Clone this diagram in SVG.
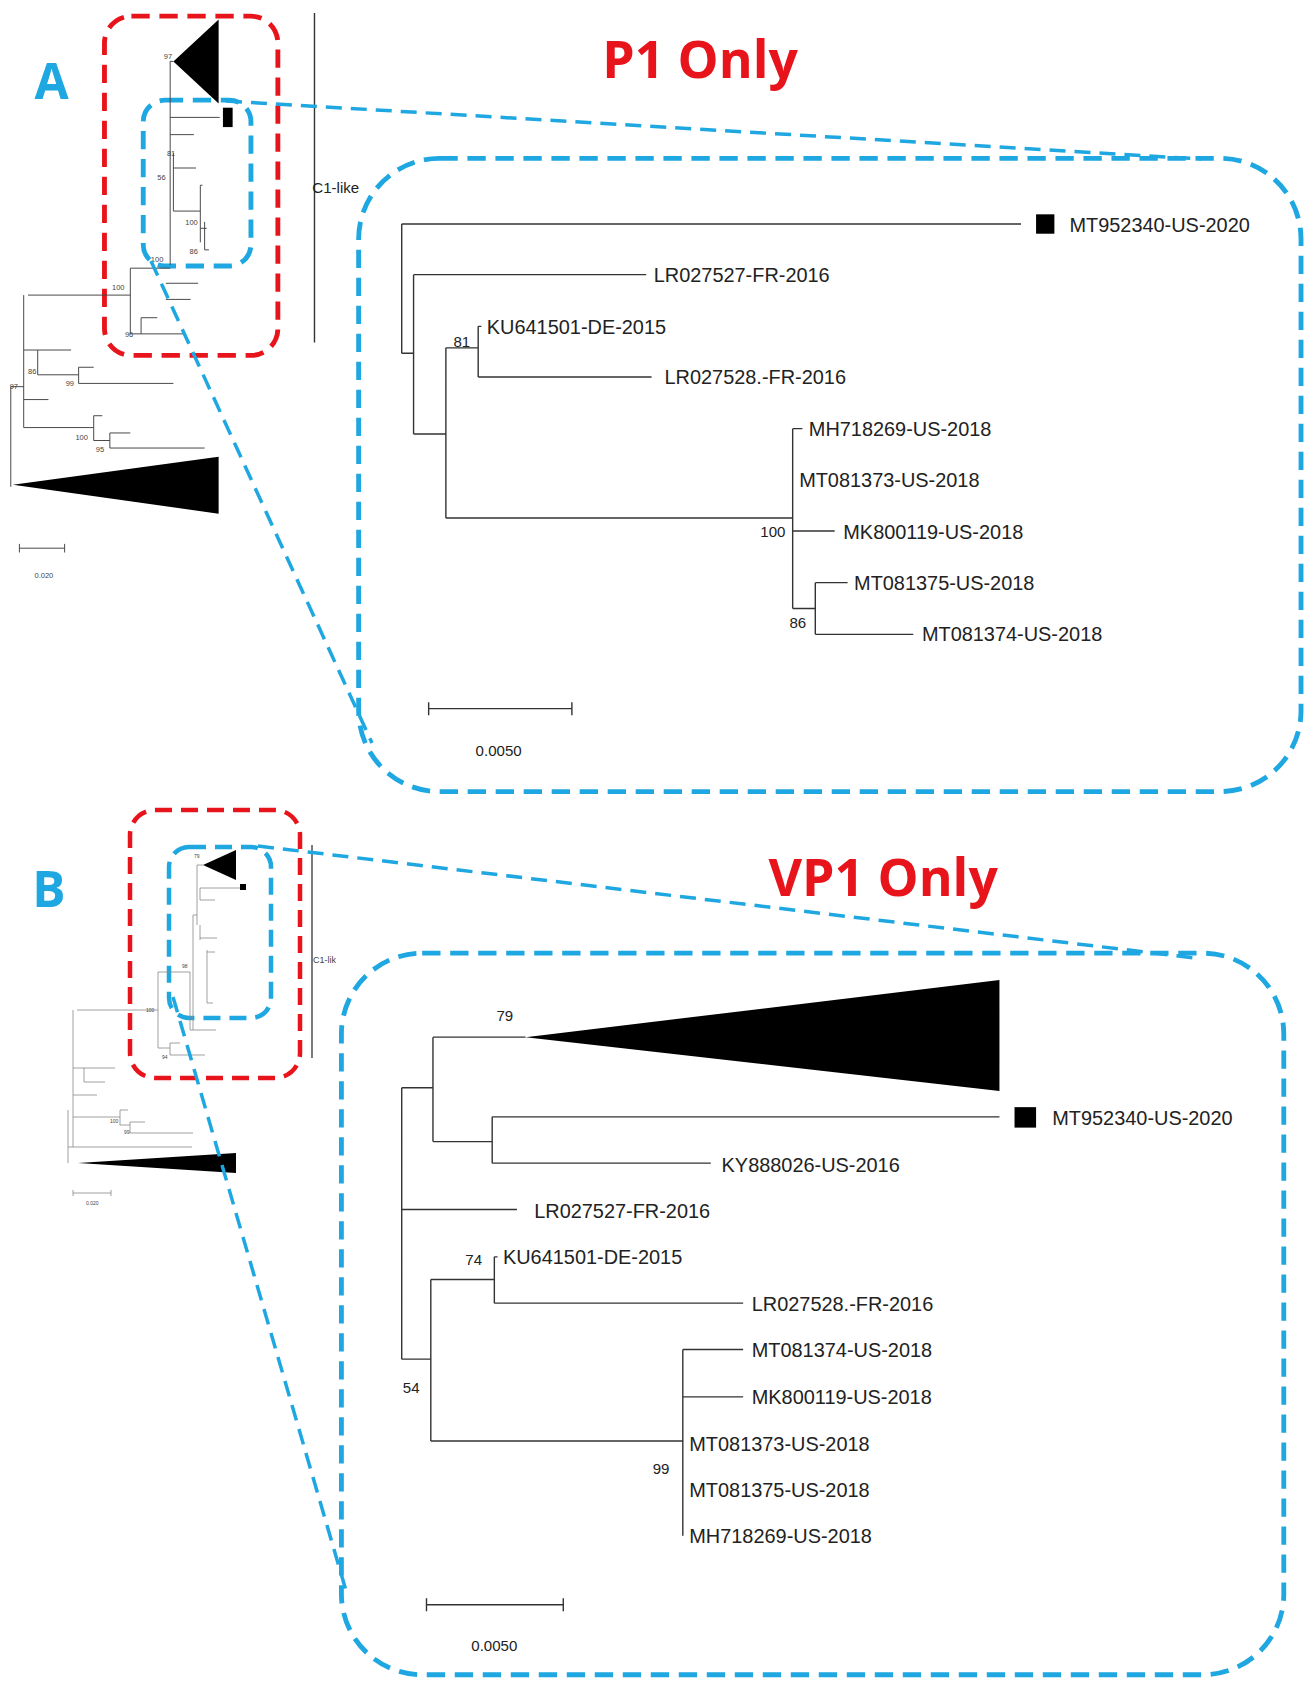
<svg xmlns="http://www.w3.org/2000/svg" width="1313" height="1692" viewBox="0 0 1313 1692">
<style>
.bg{fill:#fff}
.t{fill:none;stroke:#333;stroke-width:1.3}
.ts{fill:none;stroke:#444;stroke-width:0.9}
.tb{fill:none;stroke:#888;stroke-width:0.8}
.blk{fill:#000}
.lab{font-family:"Liberation Sans",Arial,sans-serif;font-size:18.5px;fill:#222}
.bs{font-family:"Liberation Sans",Arial,sans-serif;font-size:14px;fill:#222}
.tiny{font-family:"Liberation Sans",Arial,sans-serif;font-size:7px;fill:#444}
.big{font-family:"Open Sans","Liberation Sans",sans-serif;font-weight:bold;fill:#1EA7E1;font-size:46px}
.ttl{font-family:"Open Sans","Liberation Sans",sans-serif;font-weight:bold;fill:#E8141B;font-size:48px}
.rd{fill:none;stroke:#E8141B;stroke-width:4.5;stroke-dasharray:17 9}
.bl{fill:none;stroke:#1EA7E1;stroke-width:4.5;stroke-dasharray:17 9}
.cn{fill:none;stroke:#1EA7E1;stroke-width:3.5;stroke-dasharray:16 9}
</style>
<rect class="bg" width="1313" height="1692"/>
<g transform="scale(1.077)">
<g id="panelA-label"><text class="big" x="32" y="92">A</text><text class="ttl" x="650" y="72" text-anchor="middle">P1 Only</text></g>
<g id="A-overview">
<rect class="rd" x="97" y="15" width="161" height="315" rx="25"/>
<rect class="bl" x="133" y="93" width="100" height="154" rx="20"/>
<line class="t" x1="292" y1="12" x2="292" y2="318"/>
<text class="bs" x="290" y="179">C1-like</text>
<polygon class="blk" points="161,57 203,18 203,96"/>
<rect class="blk" x="207" y="100" width="9" height="18"/>
<path class="ts" d="M158,57H161 M158,57V246 M158,109H204 M158,125H180 M161,142V196 M161,156H182 M161,196H186 M186,172V225 M186,172H188 M186,212H192 M190,206V232 M190,232H194 M121,249H158 M154,263H184 M154,278H177 M121,249V310 M121,310H131 M131,295V310 M131,295H146 M131,310H172 M26,274H121 M22,274V397 M10,359H22 M10,359V452 M22,325H35 M35,325V348 M35,325H66 M35,348H73 M73,341V356 M73,341H87 M73,356H161 M22,371H45 M22,397H87 M87,386V409 M87,386H95 M87,409H102 M102,402V416 M102,402H121 M102,416H190"/>
<text class="tiny" x="152" y="55">97</text><text class="tiny" x="155" y="145">81</text><text class="tiny" x="146" y="167">56</text><text class="tiny" x="172" y="209">100</text><text class="tiny" x="176" y="236">86</text><text class="tiny" x="140" y="243">100</text><text class="tiny" x="104" y="269">100</text><text class="tiny" x="116" y="313">96</text><text class="tiny" x="26" y="347">86</text><text class="tiny" x="61" y="358">99</text><text class="tiny" x="9" y="361">97</text><text class="tiny" x="70" y="409">100</text><text class="tiny" x="89" y="420">95</text>
<polygon class="blk" points="12,450 203,424 203,477"/>
<path class="ts" d="M18,509H60 M18,505V513 M60,505V513"/>
<text class="tiny" x="32" y="537">0.020</text>
</g>
<g id="A-zoom">
<rect class="bl" x="333" y="147" width="875" height="588" rx="75"/>
<path class="t" d="M373,208V328 M373,208H948 M373,328H384 M384,255V403 M384,255H600 M384,403H414 M414,323V481 M414,323H444 M444,303V350 M444,303H447 M444,350H605 M414,481H736 M736,398V565 M736,398H745 M736,493H775 M736,565H757 M757,541V589 M757,541H787 M757,589H848"/>
<rect class="blk" x="962" y="199" width="17" height="18"/>
<text class="lab" x="993" y="215">MT952340-US-2020</text>
<text class="lab" x="607" y="262">LR027527-FR-2016</text>
<text class="lab" x="452" y="310">KU641501-DE-2015</text>
<text class="lab" x="617" y="357">LR027528.-FR-2016</text>
<text class="lab" x="751" y="405">MH718269-US-2018</text>
<text class="lab" x="742" y="452">MT081373-US-2018</text>
<text class="lab" x="783" y="500">MK800119-US-2018</text>
<text class="lab" x="793" y="548">MT081375-US-2018</text>
<text class="lab" x="856" y="595">MT081374-US-2018</text>
<text class="bs" x="421" y="322">81</text><text class="bs" x="706" y="499">100</text><text class="bs" x="733" y="583">86</text>
<path class="t" d="M398,658H531 M398,652V664 M531,652V664"/>
<text class="bs" x="463" y="702" text-anchor="middle">0.0050</text>
</g>
<g id="panelB-label"><text class="big" x="30" y="842">B</text><text class="ttl" x="820" y="832" text-anchor="middle">VP1 Only</text></g>
<g id="B-zoom">
<rect class="bl" x="317" y="885" width="875" height="670" rx="75"/>
<polygon class="blk" points="488,963 928,910 928,1013"/>
<path class="t" d="M373,1010V1262 M373,1010H402 M402,963V1060 M402,963H488 M402,1060H457 M457,1037V1080 M457,1037H928 M457,1080H660 M373,1123H480 M373,1262H400 M400,1188V1338 M400,1188H459 M459,1167V1210 M459,1167H462 M459,1210H690 M400,1338H634 M634,1253V1426 M634,1253H690 M634,1297H690"/>
<rect class="blk" x="942" y="1028" width="20" height="19"/>
<text class="lab" x="977" y="1045">MT952340-US-2020</text>
<text class="lab" x="670" y="1088">KY888026-US-2016</text>
<text class="lab" x="496" y="1131">LR027527-FR-2016</text>
<text class="lab" x="467" y="1174">KU641501-DE-2015</text>
<text class="lab" x="698" y="1217">LR027528.-FR-2016</text>
<text class="lab" x="698" y="1260">MT081374-US-2018</text>
<text class="lab" x="698" y="1304">MK800119-US-2018</text>
<text class="lab" x="640" y="1347">MT081373-US-2018</text>
<text class="lab" x="640" y="1390">MT081375-US-2018</text>
<text class="lab" x="640" y="1433">MH718269-US-2018</text>
<text class="bs" x="461" y="948">79</text><text class="bs" x="432" y="1175">74</text><text class="bs" x="374" y="1293">54</text><text class="bs" x="606" y="1369">99</text>
<path class="t" d="M396,1490H523 M396,1484V1496 M523,1484V1496"/>
<text class="bs" x="459" y="1533" text-anchor="middle">0.0050</text>
</g>
</g>
<g id="B-overview">
<rect class="rd" x="130" y="810" width="170" height="268" rx="25"/>
<rect class="bl" x="169" y="847" width="102" height="171" rx="20"/>
<line class="t" x1="312" y1="845" x2="312" y2="1058"/>
<text class="tiny" x="313" y="963" style="font-size:9px">C1-lik</text>
<polygon class="blk" points="203,865 236,850 236,880"/>
<rect class="blk" x="240" y="884" width="6" height="6"/>
<path class="tb" d="M197,865V925 M197,865H203 M200,888V900 M200,888H240 M200,900H215 M193,915V1030 M193,915H197 M200,925V940 M200,938H217 M207,950V1003 M207,952H215 M207,1003H213 M190,972V1030 M190,1030H216 M158,972H190 M158,972V1048 M77,1010H158 M158,1048H170 M170,1043V1055 M170,1043H180 M170,1055H205 M73,1010V1147 M68,1110V1163 M73,1068H84 M84,1068V1082 M84,1068H115 M84,1082H105 M73,1095H97 M73,1117H120 M120,1110V1125 M120,1110H128 M120,1125H130 M130,1122V1133 M130,1122H145 M130,1133H193 M68,1147H192"/>
<polygon class="blk" points="78,1163 236,1153 236,1173"/>
<text class="tiny" x="194" y="858" style="font-size:5px">79</text><text class="tiny" x="146" y="1012" style="font-size:5px">100</text><text class="tiny" x="182" y="968" style="font-size:5px">98</text><text class="tiny" x="162" y="1059" style="font-size:5px">94</text><text class="tiny" x="110" y="1123" style="font-size:5px">100</text><text class="tiny" x="124" y="1134" style="font-size:5px">99</text>
<path class="tb" d="M73,1193H111 M73,1190V1196 M111,1190V1196"/>
<text class="tiny" x="86" y="1205" style="font-size:5px">0.020</text>
</g>
<g id="connectors">
<line class="cn" x1="226" y1="101" x2="1201" y2="159"/>
<line class="cn" x1="151" y1="261" x2="372" y2="743"/>
<line class="cn" x1="258" y1="846" x2="1195" y2="958"/>
<line class="cn" x1="173" y1="997" x2="347" y2="1594"/>
</g>
</svg>
